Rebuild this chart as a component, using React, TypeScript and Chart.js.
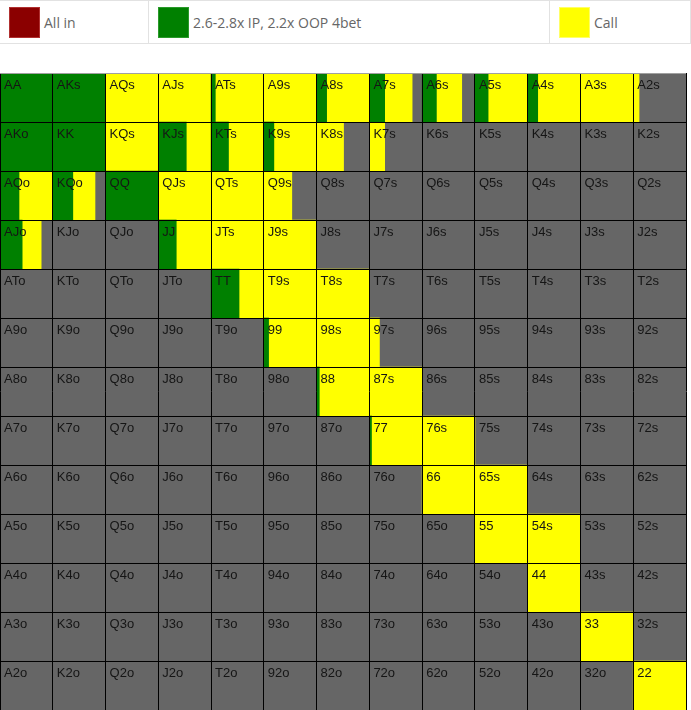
import React, { useEffect, useRef } from "react";
import { Chart, registerables } from "chart.js";

Chart.register(...registerables);

// ---- data ----
const RANKS = ["A", "K", "Q", "J", "T", "9", "8", "7", "6", "5", "4", "3", "2"];

const LEGEND_LABELS = ["All in", "2.6-2.8x IP, 2.2x OOP 4bet", "Call"];
const LEGEND_COLORS = ["#8b0000", "#008000", "#ffff00"];
const LEGEND_BORDERS = ["#b03030", "#2a9a2a", "#ffff66"];
const FOLD_COLOR = "#666666";

// percent of each hand played as 4bet (green), row = first rank, col = second rank
const GREEN_PCT: number[][] = [
  [100, 100, 0, 0, 8, 0, 19, 29, 27, 25, 19, 0, 0],
  [100, 100, 0, 53, 33, 19, 0, 0, 0, 0, 0, 0, 0],
  [36, 38, 100, 0, 0, 0, 0, 0, 0, 0, 0, 0, 0],
  [42, 0, 0, 34, 0, 0, 0, 0, 0, 0, 0, 0, 0],
  [0, 0, 0, 0, 53, 0, 0, 0, 0, 0, 0, 0, 0],
  [0, 0, 0, 0, 0, 9, 0, 0, 0, 0, 0, 0, 0],
  [0, 0, 0, 0, 0, 0, 5, 0, 0, 0, 0, 0, 0],
  [0, 0, 0, 0, 0, 0, 0, 4, 0, 0, 0, 0, 0],
  [0, 0, 0, 0, 0, 0, 0, 0, 0, 0, 0, 0, 0],
  [0, 0, 0, 0, 0, 0, 0, 0, 0, 0, 0, 0, 0],
  [0, 0, 0, 0, 0, 0, 0, 0, 0, 0, 0, 0, 0],
  [0, 0, 0, 0, 0, 0, 0, 0, 0, 0, 0, 0, 0],
  [0, 0, 0, 0, 0, 0, 0, 0, 0, 0, 0, 0, 0],
];

// percent of each hand played as call (yellow)
const YELLOW_PCT: number[][] = [
  [0, 0, 100, 100, 92, 100, 81, 52, 48, 75, 81, 100, 11],
  [0, 0, 100, 47, 67, 81, 51, 29, 0, 0, 0, 0, 0],
  [64, 42, 0, 100, 100, 53, 0, 0, 0, 0, 0, 0, 0],
  [36, 0, 0, 66, 100, 100, 0, 0, 0, 0, 0, 0, 0],
  [0, 0, 0, 0, 47, 100, 100, 0, 0, 0, 0, 0, 0],
  [0, 0, 0, 0, 0, 91, 100, 19, 0, 0, 0, 0, 0],
  [0, 0, 0, 0, 0, 0, 95, 100, 0, 0, 0, 0, 0],
  [0, 0, 0, 0, 0, 0, 0, 96, 100, 0, 0, 0, 0],
  [0, 0, 0, 0, 0, 0, 0, 0, 100, 100, 0, 0, 0],
  [0, 0, 0, 0, 0, 0, 0, 0, 0, 100, 100, 0, 0],
  [0, 0, 0, 0, 0, 0, 0, 0, 0, 0, 100, 0, 0],
  [0, 0, 0, 0, 0, 0, 0, 0, 0, 0, 0, 100, 0],
  [0, 0, 0, 0, 0, 0, 0, 0, 0, 0, 0, 0, 100],
];

function handLabel(r: number, c: number): string {
  if (r === c) return RANKS[r] + RANKS[c];
  if (c > r) return RANKS[r] + RANKS[c] + "s";
  return RANKS[c] + RANKS[r] + "o";
}

const N = RANKS.length;

function buildSegments() {
  const green: any[] = [];
  const yellow: any[] = [];
  const gray: any[] = [];
  for (let r = 0; r < N; r++) {
    for (let c = 0; c < N; c++) {
      const g = GREEN_PCT[r][c] / 100;
      const y = YELLOW_PCT[r][c] / 100;
      const yy = r + 0.5;
      if (g > 0) green.push({ y: yy, x: [c, c + g] });
      if (y > 0) yellow.push({ y: yy, x: [c + g, c + g + y] });
      if (g + y < 1) gray.push({ y: yy, x: [c + g + y, c + 1] });
    }
  }
  return { green, yellow, gray };
}

const labelPlugin = {
  id: "handLabels",
  afterDatasetsDraw(chart: any) {
    const { ctx } = chart;
    const xs = chart.scales.x;
    const ys = chart.scales.y;
    ctx.save();
    ctx.font = '13px "Liberation Sans", Arial, sans-serif';
    ctx.textBaseline = "top";
    ctx.textAlign = "left";
    ctx.fillStyle = "#151515";
    for (let r = 0; r < N; r++) {
      for (let c = 0; c < N; c++) {
        const x = xs.getPixelForValue(c) + 4;
        const y = ys.getPixelForValue(r) + 6;
        ctx.fillText(handLabel(r, c), x, y);
      }
    }
    ctx.restore();
  },
};

export default function App() {
  const canvasRef = useRef<HTMLCanvasElement | null>(null);

  useEffect(() => {
    document.body.style.margin = "0";
    const canvas = canvasRef.current;
    if (!canvas) return;
    const seg = buildSegments();
    const chart = new Chart(canvas, {
      type: "bar",
      data: {
        datasets: [
          { label: LEGEND_LABELS[1], data: seg.green, backgroundColor: LEGEND_COLORS[1] },
          { label: LEGEND_LABELS[2], data: seg.yellow, backgroundColor: LEGEND_COLORS[2] },
          { label: "Fold", data: seg.gray, backgroundColor: FOLD_COLOR },
        ] as any,
      },
      options: {
        indexAxis: "y",
        responsive: false,
        animation: false,
        layout: { padding: { left: 0, right: 1, top: 0, bottom: 0 } },
        datasets: {
          bar: {
            grouped: false,
            categoryPercentage: 1,
            barPercentage: 1,
            borderWidth: 0,
          },
        } as any,
        plugins: {
          legend: { display: false },
          tooltip: { enabled: false },
        },
        scales: {
          x: {
            type: "linear",
            min: 0,
            max: N,
            offset: false,
            ticks: { display: false, stepSize: 1, autoSkip: false },
            grid: { color: "#000000", drawTicks: false, lineWidth: 1, z: 1, offset: false },
            border: { display: false },
          },
          y: {
            type: "linear",
            min: 0,
            max: N,
            reverse: true,
            offset: false,
            ticks: { display: false, stepSize: 1, autoSkip: false },
            grid: {
              color: (ctx: any) => (ctx.tick && ctx.tick.value === 0 ? "#a0a0a0" : "#000000"),
              drawTicks: false,
              lineWidth: 1,
              z: 1,
              offset: false,
            },
            border: { display: false },
          },
        },
      } as any,
      plugins: [labelPlugin],
    });
    return () => chart.destroy();
  }, []);

  const widths = [149, 401, 141];

  return (
    <div style={{ width: 691 }}>
      <div
        style={{
          height: 42,
          borderTop: "1px solid #e2e2e2",
          borderBottom: "1px solid #e2e2e2",
          display: "flex",
          fontFamily: '"Open Sans", sans-serif',
          fontSize: 14,
          color: "#666",
        }}
      >
        {LEGEND_LABELS.map((lab, i) => (
          <div
            key={lab}
            style={{
              width: widths[i],
              boxSizing: "border-box",
              borderRight: "1px solid #e2e2e2",
              display: "flex",
              alignItems: "center",
              paddingLeft: 9,
            }}
          >
            <span
              style={{
                display: "inline-block",
                width: 31,
                height: 31,
                boxSizing: "border-box",
                background: LEGEND_COLORS[i],
                border: `1px solid ${LEGEND_BORDERS[i]}`,
                marginRight: 4,
              }}
            />
            <span>{lab}</span>
          </div>
        ))}
      </div>
      <div style={{ height: 29 }} />
      <canvas ref={canvasRef} width={687} height={637} style={{ display: "block" }} />
    </div>
  );
}
